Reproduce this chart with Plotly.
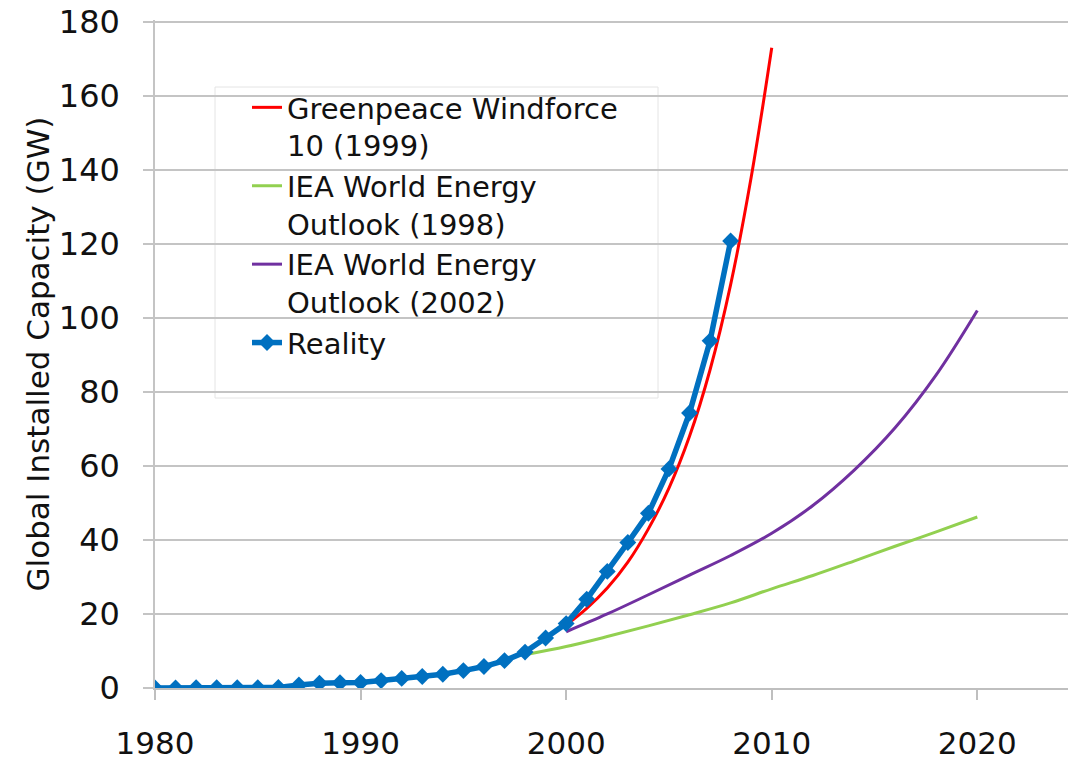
import plotly.graph_objects as go

# ---- data ----
reality_years = list(range(1980, 2009))
reality_gw = [0.0, 0.0, 0.05, 0.1, 0.1, 0.1, 0.15, 0.8, 1.3, 1.4, 1.5, 2.0, 2.6, 3.1,
              3.7, 4.7, 5.8, 7.4, 9.7, 13.5, 17.4, 24.0, 31.5, 39.3, 47.2, 59.2, 74.3,
              93.8, 120.8]

greenpeace_years = list(range(2000, 2011))
greenpeace_gw = [17.0, 21.5, 27.0, 34.0, 43.0, 54.0, 68.0, 86.0, 109.0, 138.0, 173.0]

iea1998_years = [1998, 2000, 2002, 2004, 2006, 2008, 2010, 2012, 2014, 2016, 2018, 2020]
iea1998_gw = [9.0, 11.2, 13.9, 16.8, 19.8, 23.0, 26.8, 30.4, 34.3, 38.3, 42.2, 46.2]

iea2002_years = [2000, 2002, 2004, 2006, 2008, 2010, 2012, 2014, 2016, 2018, 2020]
iea2002_gw = [15.2, 20.0, 25.2, 30.5, 35.8, 41.8, 49.3, 58.8, 70.3, 84.6, 102.0]

x_ticks = [1980, 1990, 2000, 2010, 2020]
y_ticks = [0, 20, 40, 60, 80, 100, 120, 140, 160, 180]

names = ["Greenpeace Windforce<br>10 (1999)",
         "IEA World Energy<br>Outlook (1998)",
         "IEA World Energy<br>Outlook (2002)",
         "Reality"]

FONT = "DejaVu Sans"
OFF = 8  # page body margin that the browser adds around the figure
W, H = 1076 - OFF, 760 - OFF
L, R, T, B = 155 - OFF, 0, 12, 72
PW, PH = W - L - R, H - T - B

fig = go.Figure()
fig.add_trace(go.Scatter(x=greenpeace_years, y=greenpeace_gw, name=names[0], mode="lines",
                         line=dict(color="#FF0000", width=3, shape="spline"),
                         hoverinfo="skip"))
fig.add_trace(go.Scatter(x=iea1998_years, y=iea1998_gw, name=names[1], mode="lines",
                         line=dict(color="#92D050", width=3, shape="spline"),
                         hoverinfo="skip"))
fig.add_trace(go.Scatter(x=iea2002_years, y=iea2002_gw, name=names[2], mode="lines",
                         line=dict(color="#7030A0", width=3, shape="spline"),
                         hoverinfo="skip"))
fig.add_trace(go.Scatter(x=reality_years, y=reality_gw, name=names[3], mode="lines+markers",
                         line=dict(color="#0070C0", width=5.5),
                         marker=dict(symbol="diamond", size=13, color="#0070C0"),
                         hoverinfo="skip"))

# helpers: convert screen pixel of the reference into paper fractions
def px_x(p):
    return (p - OFF - L) / PW

def px_y(p):
    return (H - B - (p - OFF)) / PH

# legend box (white, faint border) like the reference
fig.add_shape(type="rect", xref="paper", yref="paper",
              x0=px_x(215), x1=px_x(658), y0=px_y(398), y1=px_y(87),
              fillcolor="white", line=dict(color="#e4e4e4", width=1), layer="between")

fig.update_layout(
    width=W, height=H,
    margin=dict(l=L, r=R, t=T, b=B, pad=0, autoexpand=False),
    paper_bgcolor="white", plot_bgcolor="white",
    font=dict(family=FONT, size=32, color="#111111"),
    showlegend=True,
    legend=dict(x=px_x(247), y=px_y(82), xanchor="left", yanchor="top",
                bgcolor="rgba(0,0,0,0)", borderwidth=0,
                font=dict(family=FONT, size=29, color="#111111"),
                valign="top", tracegroupgap=0, itemwidth=30),
    xaxis=dict(range=[1980, 2024.8], tickvals=x_ticks, ticktext=[str(v) for v in x_ticks],
               showgrid=False, zeroline=False, automargin=False,
               showline=True, linecolor="#bfbfbf", linewidth=1.5,
               ticks="outside", ticklen=10, tickcolor="#bfbfbf", tickwidth=1.5,
               ticklabelstandoff=17, ticklabeloverflow="allow",
               tickfont=dict(family=FONT, size=31, color="#111111")),
    yaxis=dict(range=[0, 180.5], tickvals=y_ticks, automargin=False,
               showgrid=True, gridcolor="#c4c4c4", gridwidth=1.5, zeroline=False,
               showline=True, linecolor="#c4c4c4", linewidth=1.5,
               ticks="outside", ticklen=10, tickcolor="#c4c4c4", tickwidth=1.5,
               ticklabelstandoff=17, ticklabeloverflow="allow",
               tickfont=dict(family=FONT, size=32, color="#111111"),
               title=dict(text="Global Installed Capacity (GW)", standoff=0,
                          font=dict(family=FONT, size=31, color="#111111"))),
)

fig.write_html("out.html")
